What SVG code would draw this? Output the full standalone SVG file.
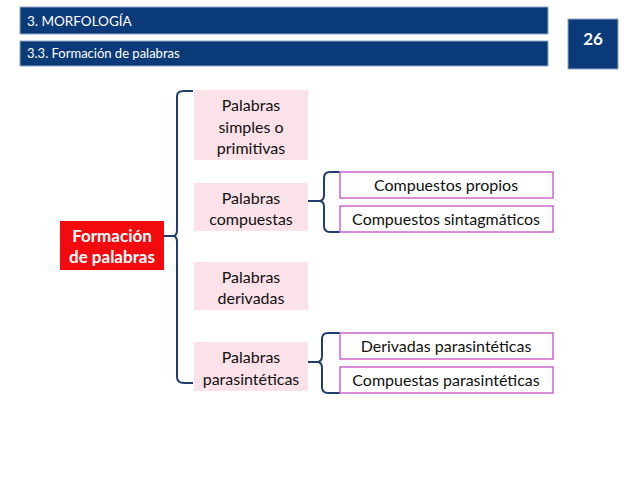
<svg xmlns="http://www.w3.org/2000/svg" width="638" height="479" viewBox="0 0 638 479">
<style>
.hdr{fill:#0b3a78;stroke:#8fa6c8;stroke-width:1}
.ht{fill:#fff;font-family:Lato,"Liberation Sans",Arial,sans-serif}
.pk{fill:#fbe1e8}
.mg{fill:#fff;stroke:#cc66cc;stroke-width:1.5}
.t{font-family:Lato,"Liberation Sans",Arial,sans-serif;font-size:16px;fill:#111;text-anchor:middle}
.f{fill:#fff;font-weight:bold;font-size:17px}
.br{fill:none;stroke:#1f3d6f;stroke-width:2}
</style>
<rect width="638" height="479" fill="#fff"/>
<g id="header">
<rect class="hdr" x="20" y="7" width="528" height="27"/>
<text class="ht" x="27" y="26" font-size="13.5">3. MORFOLOGÍA</text>
<rect class="hdr" x="20" y="41" width="528" height="25"/>
<text class="ht" x="27" y="58" font-size="13">3.3. Formación de palabras</text>
<rect class="hdr" x="568" y="19" width="50" height="50"/>
<text class="ht" x="593" y="45" font-size="17" font-weight="bold" text-anchor="middle">26</text>
</g>
<g id="connectors">
<path class="br" d="M164 236 H173 Q177 236 177 230 V96 Q177 91 184 91 H193 M177 242 V377 Q177 383 184 383 H193 M177 242 Q177 236 173 236"/>
<path class="br" d="M308 201 H319 Q324 201 324 195 V178 Q324 172 330 172 H340 M324 207 V226 Q324 232 330 232 H340 M324 207 Q324 201 319 201"/>
<path class="br" d="M308 362 H317 Q322 362 322 356 V339 Q322 333 328 333 H340 M322 368 V387 Q322 393 328 393 H340 M322 368 Q322 362 317 362"/>
</g>
<g id="n-formacion">
<rect x="60" y="221" width="104" height="49" fill="#f20a0f"/>
<text class="t f" x="112" y="242">Formación</text>
<text class="t f" x="112" y="263">de palabras</text>
</g>
<g id="n-simples">
<rect class="pk" x="194" y="90" width="114" height="70"/>
<text class="t" x="251" y="111">Palabras</text>
<text class="t" x="251" y="133">simples o</text>
<text class="t" x="251" y="154">primitivas</text>
</g>
<g id="n-compuestas">
<rect class="pk" x="194" y="183" width="114" height="48"/>
<text class="t" x="251" y="204">Palabras</text>
<text class="t" x="251" y="225">compuestas</text>
</g>
<g id="n-derivadas">
<rect class="pk" x="194" y="262" width="114" height="48"/>
<text class="t" x="251" y="283">Palabras</text>
<text class="t" x="251" y="304">derivadas</text>
</g>
<g id="n-parasinteticas">
<rect class="pk" x="194" y="342" width="114" height="49"/>
<text class="t" x="251" y="363">Palabras</text>
<text class="t" x="251" y="385">parasintéticas</text>
</g>
<g id="n-propios">
<rect class="mg" x="340" y="172" width="213" height="26"/>
<text class="t" x="446" y="191">Compuestos propios</text>
</g>
<g id="n-sintagmaticos">
<rect class="mg" x="340" y="206" width="213" height="26"/>
<text class="t" x="446" y="225">Compuestos sintagmáticos</text>
</g>
<g id="n-derpar">
<rect class="mg" x="340" y="333" width="213" height="26"/>
<text class="t" x="446" y="352">Derivadas parasintéticas</text>
</g>
<g id="n-compar">
<rect class="mg" x="340" y="367" width="213" height="26"/>
<text class="t" x="446" y="386">Compuestas parasintéticas</text>
</g>
</svg>
